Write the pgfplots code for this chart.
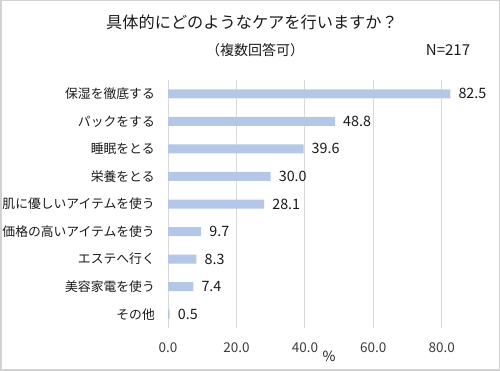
\documentclass[border=0pt]{standalone}
\usepackage{fontspec}
\setmainfont{Noto Sans CJK JP}
\usepackage{pgfplots}
\pgfplotsset{compat=1.18}
\definecolor{barblue}{HTML}{B4C7E7}
\definecolor{gridgray}{HTML}{D9D9D9}
\definecolor{txt}{HTML}{1A1A1A}
\begin{document}
\begin{tikzpicture}
\useasboundingbox (0pt,0pt) rectangle (500pt,371pt);
\fill[white] (0pt,0pt) rectangle (500pt,371pt);
\draw[gray!35, line width=1.5pt] (0.75pt,0.75pt) rectangle (499.25pt,370.25pt);
\begin{axis}[
  at={(168pt,43pt)}, anchor=south west,
  scale only axis, width=308pt, height=248pt,
  xbar, bar width=9pt,
  xmin=0, xmax=90, ymin=-0.5, ymax=8.5,
  ytick={0,...,8},
  yticklabels={その他,美容家電を使う,エステへ行く,価格の高いアイテムを使う,肌に優しいアイテムを使う,栄養をとる,睡眠をとる,パックをする,保湿を徹底する},
  xtick={0,20,40,60,80},
  separate axis lines,
  axis line style={draw=none},
  major tick length=0pt,
  xmajorgrids, grid style={gridgray, line width=0.8pt},
  /pgf/number format/assume math mode=true,
  xticklabel={\pgfmathprintnumber[fixed,fixed zerofill,precision=1]{\tick}},
  xticklabel style={font=\fontsize{13.5}{15}\selectfont, text=txt!85, anchor=base, inner sep=0pt, yshift=-25pt},
  yticklabel style={font=\fontsize{12.8}{14}\selectfont, text=txt, anchor=east, inner sep=0pt, xshift=-13pt},
  nodes near coords,
  nodes near coords style={font=\fontsize{14.3}{16}\selectfont, text=txt, anchor=west, inner sep=0pt, xshift=8pt},
  every node near coord/.append style={/pgf/number format/.cd, fixed, fixed zerofill, precision=1, assume math mode=true},
  clip=false,
]
\addplot[fill=barblue, draw=none] coordinates {
  (0.5,0) (7.4,1) (8.3,2) (9.7,3) (28.1,4) (30.0,5) (39.6,6) (48.8,7) (82.5,8)
};
\end{axis}
\node[text=txt, font=\fontsize{16.2}{18}\selectfont] at (252pt,349pt) {具体的にどのようなケアを行いますか？};
\node[text=txt, font=\fontsize{14}{16}\selectfont] at (255pt,321pt) {（複数回答可）};
\node[text=txt, font=\fontsize{15}{17}\selectfont] at (448pt,321pt) {N=217};
\node[text=txt, font=\fontsize{14}{16}\selectfont] at (329pt,15pt) {\%};
\end{tikzpicture}
\end{document}
